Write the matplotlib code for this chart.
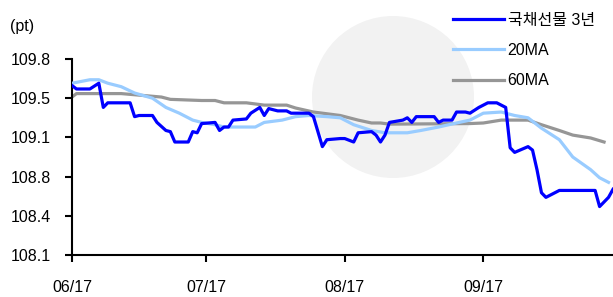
import numpy as np
import pandas as pd
import matplotlib
matplotlib.use("Agg")
import matplotlib.pyplot as plt
import matplotlib.dates as mdates
from matplotlib.patches import Ellipse

plt.rcParams['font.family'] = ['Liberation Sans', 'Noto Sans CJK KR']

# 국채선물 3년 (vertices)
ktb_dates = ["2017-06-01", "2017-06-02", "2017-06-05", "2017-06-07", "2017-06-08", "2017-06-09",
             "2017-06-14", "2017-06-15", "2017-06-16", "2017-06-19", "2017-06-20", "2017-06-22",
             "2017-06-23", "2017-06-24", "2017-06-26", "2017-06-27", "2017-06-28", "2017-06-29",
             "2017-06-30", "2017-07-03", "2017-07-04", "2017-07-05", "2017-07-06", "2017-07-07",
             "2017-07-10", "2017-07-11", "2017-07-13", "2017-07-14", "2017-07-15", "2017-07-17",
             "2017-07-19", "2017-07-20", "2017-07-24", "2017-07-25", "2017-07-27", "2017-07-28",
             "2017-07-31", "2017-08-01", "2017-08-03", "2017-08-04", "2017-08-07", "2017-08-08",
             "2017-08-09", "2017-08-10", "2017-08-11", "2017-08-14", "2017-08-15", "2017-08-16",
             "2017-08-17", "2017-08-21", "2017-08-22", "2017-08-23", "2017-08-25", "2017-08-26",
             "2017-08-28", "2017-08-29", "2017-08-31", "2017-09-02", "2017-09-04", "2017-09-06",
             "2017-09-07", "2017-09-08", "2017-09-11", "2017-09-12", "2017-09-13", "2017-09-14",
             "2017-09-15", "2017-09-18", "2017-09-26", "2017-09-27", "2017-09-29", "2017-09-30"]
ktb_vals = [109.57, 109.54, 109.54, 109.59, 109.38, 109.42,
            109.42, 109.30, 109.31, 109.31, 109.25, 109.18,
            109.17, 109.08, 109.08, 109.08, 109.17, 109.16,
            109.24, 109.25, 109.18, 109.21, 109.21, 109.27,
            109.28, 109.33, 109.38, 109.31, 109.37, 109.35,
            109.35, 109.33, 109.33, 109.30, 109.04, 109.10,
            109.11, 109.11, 109.08, 109.16, 109.17, 109.14,
            109.08, 109.14, 109.25, 109.27, 109.29, 109.25,
            109.30, 109.30, 109.25, 109.27, 109.27, 109.34,
            109.34, 109.33, 109.38, 109.42, 109.42, 109.38,
            109.03, 108.99, 109.04, 109.01, 108.84, 108.64,
            108.60, 108.66, 108.66, 108.52, 108.60, 108.67]

ma20_dates = ["2017-06-01", "2017-06-05", "2017-06-07", "2017-06-09", "2017-06-12", "2017-06-15",
              "2017-06-19", "2017-06-22", "2017-06-25", "2017-06-28", "2017-06-30", "2017-07-03",
              "2017-07-05", "2017-07-12", "2017-07-14", "2017-07-18", "2017-07-21", "2017-07-24",
              "2017-07-28", "2017-07-31", "2017-08-03", "2017-08-07", "2017-08-10", "2017-08-15",
              "2017-08-18", "2017-08-22", "2017-08-26", "2017-08-29", "2017-09-01", "2017-09-05",
              "2017-09-08", "2017-09-11", "2017-09-14", "2017-09-18", "2017-09-21", "2017-09-25",
              "2017-09-27", "2017-09-29"]
ma20_vals = [109.59, 109.62, 109.62, 109.59, 109.56, 109.505,
             109.46, 109.38, 109.33, 109.27, 109.25, 109.23,
             109.21, 109.21, 109.25, 109.27, 109.30, 109.31,
             109.30, 109.29, 109.23, 109.18, 109.16, 109.16,
             109.18, 109.21, 109.245, 109.27, 109.33, 109.34,
             109.31, 109.29, 109.20, 109.10, 108.95, 108.84,
             108.77, 108.73]

ma60_dates = ["2017-06-01", "2017-06-02", "2017-06-12", "2017-06-15", "2017-06-21", "2017-06-23",
              "2017-06-30", "2017-07-03", "2017-07-05", "2017-07-10", "2017-07-14", "2017-07-19",
              "2017-07-21", "2017-07-25", "2017-07-31", "2017-08-04", "2017-08-07", "2017-08-09",
              "2017-08-11", "2017-08-29", "2017-09-01", "2017-09-05", "2017-09-11", "2017-09-14",
              "2017-09-18", "2017-09-21", "2017-09-25", "2017-09-28"]
ma60_vals = [109.47, 109.50, 109.50, 109.49, 109.47, 109.45,
             109.44, 109.44, 109.42, 109.42, 109.40, 109.40,
             109.375, 109.34, 109.31, 109.27, 109.245, 109.245,
             109.235, 109.24, 109.245, 109.27, 109.27, 109.23,
             109.18, 109.14, 109.115, 109.08]

y_ticks = np.arange(108.1, 109.81, 0.34)
x_ticks = ["2017-06-01", "2017-07-01", "2017-08-01", "2017-09-01"]

fig = plt.figure(figsize=(6.13, 2.97), dpi=100)

# faint watermark circle behind the chart
bg = fig.add_axes([0, 0, 1, 1], zorder=-1)
bg.axis("off")
bg.set_xlim(0, 1)
bg.set_ylim(0, 1)
bg.add_patch(Ellipse((393 / 613, 1 - 97 / 297), 2 * 81 / 613, 2 * 81 / 297,
                     color="#f2f2f2", lw=0))

ax = fig.add_axes([72 / 613, 1 - 255 / 297, 541 / 613, 196 / 297])
ax.patch.set_alpha(0)

ax.plot(pd.to_datetime(ma60_dates), ma60_vals, color="#969696", lw=2.3, label="60MA", zorder=2)
ax.plot(pd.to_datetime(ma20_dates), ma20_vals, color="#99ccff", lw=2.3, label="20MA", zorder=3)
ax.plot(pd.to_datetime(ktb_dates), ktb_vals, color="#0000ff", lw=2.3, label="국채선물 3년", zorder=4)

ax.set_xlim(pd.Timestamp("2017-06-01"), pd.Timestamp("2017-09-30"))
ax.set_ylim(108.1, 109.8)
ax.set_yticks(y_ticks)
ax.yaxis.set_major_formatter(plt.FuncFormatter(lambda v, p: f"{v:.1f}"))
ax.set_xticks(pd.to_datetime(x_ticks))
ax.xaxis.set_major_formatter(mdates.DateFormatter("%m/%y"))

for s in ["top", "right"]:
    ax.spines[s].set_visible(False)
for s in ["left", "bottom"]:
    ax.spines[s].set_linewidth(1.5)
ax.tick_params(axis="y", length=5, width=1.5, pad=10, labelsize=11.5)
ax.tick_params(axis="x", length=5, width=1.5, pad=13, labelsize=11.5)

h, l = ax.get_legend_handles_labels()
fig.legend(h[::-1], l[::-1], loc="upper left", bbox_to_anchor=(439 / 613, 1.005),
           frameon=False, fontsize=11.5, handlelength=3.2, handletextpad=0.2,
           labelspacing=0.95)

fig.text(10 / 613, 1 - 26 / 297, "(pt)", fontsize=11.5, va="center", ha="left")

fig.savefig("out.png", dpi=100)
